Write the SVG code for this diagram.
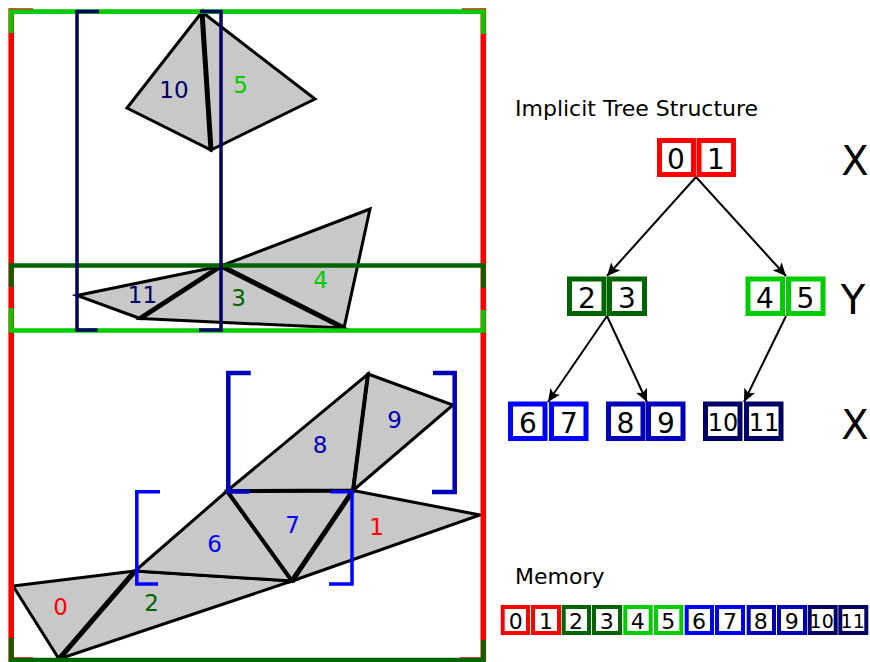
<svg xmlns="http://www.w3.org/2000/svg" width="870" height="662" viewBox="0 0 870 662">
<style>
text{font-family:"DejaVu Sans",sans-serif;text-anchor:middle}
.tri{fill:#c8c8c8;stroke:#000;stroke-width:3;stroke-linejoin:miter;stroke-miterlimit:10}
.e{fill:none;stroke:#000;stroke-width:5;stroke-linecap:butt}
.lb{font-size:23px}
.br{fill:none;stroke-linejoin:miter}
.box{fill:#fff;stroke-width:5}
.mem{fill:#fff;stroke-width:4}
.d{font-size:28px;fill:#000}
.ds{font-size:24px;fill:#000}
.m{font-size:22px;fill:#000}
.ms{font-size:19px;fill:#000}
.h{font-size:22px;fill:#000;text-anchor:start}
.ax{font-size:40px;fill:#000}
.red{stroke:#f00}.dg{stroke:#006400}.lg{stroke:#0c0}.bl{stroke:#00f}.mb{stroke:#00b}.nv{stroke:#006}
.cr{fill:#f00}.cdg{fill:#006400}.clg{fill:#0c0}.cbl{fill:#00f}.cmb{fill:#00b}.cnv{fill:#006}
.arr{fill:none;stroke:#000;stroke-width:2;marker-end:url(#ah)}
</style>
<defs>
<marker id="ah" markerUnits="userSpaceOnUse" markerWidth="14" markerHeight="12" refX="13" refY="6" orient="auto"><path d="M0 0L13 6L0 12L3 6Z" fill="#000"/></marker>
</defs>
<g id="triangles">
<path class="tri" d="M13 586L135 571L59 659Z"/>
<path class="tri" d="M135 571L292 581L59 659Z"/>
<path class="tri" d="M135 571L227 491L292 581Z"/>
<path class="tri" d="M227 491L353 490.500L292 581Z"/>
<path class="tri" d="M353 490.500L480 515L292 581Z"/>
<path class="tri" d="M227 491L368 374L353 490.500Z"/>
<path class="tri" d="M368 374L453 405L353 490.500Z"/>
<path class="tri" d="M202 12L127 108L211 150Z"/>
<path class="tri" d="M202 12L315 99L211 150Z"/>
<path class="tri" d="M221 266L77 295.500L140 318.500Z"/>
<path class="tri" d="M221 266L140 318.500L344 328Z"/>
<path class="tri" d="M221 266L370 209L344 328Z"/>
<path class="e" d="M135 571L59 659M292 581L353 490.500M202 12L211 150M221 266L140 318.500M221 266L344 328"/>
<path class="e" stroke-width="4" style="stroke-width:4" d="M227 491L353 490.500M368 374L353 490.500M227 491L292 581"/>
</g>
<g id="triangle-labels">
<text class="lb cr" x="60.500" y="615">0</text>
<text class="lb cr" x="376.500" y="535">1</text>
<text class="lb cdg" x="151.500" y="611">2</text>
<text class="lb cdg" x="238.500" y="306">3</text>
<text class="lb clg" x="320.500" y="288">4</text>
<text class="lb clg" x="240.500" y="93">5</text>
<text class="lb cbl" x="214.500" y="552">6</text>
<text class="lb cbl" x="292.500" y="533">7</text>
<text class="lb cmb" x="320" y="453">8</text>
<text class="lb cmb" x="394.500" y="428">9</text>
<text class="lb cnv" x="174" y="98">10</text>
<text class="lb cnv" x="142.500" y="303">11</text>
</g>
<g id="brackets">
<path class="br red" stroke-width="5.600" d="M33 11H11.200V660H33M462 11H483.300V660H460"/>
<path class="br lg" stroke-width="4.600" d="M11.200 33V11.600H483.300V34M11.200 308V330.500H483.300V310"/>
<path class="br dg" stroke-width="4.600" d="M11.200 287V265.500H483.300V288M11.200 638V660H483.300V640"/>
<path class="br nv" stroke-width="3.500" d="M99 11.500H77V330H97.500M200 11.500H221V330H199"/>
<path class="br bl" stroke-width="3.500" d="M160 491.700H136.800V584H158M330.500 491.700H352V584H329"/>
<path class="br mb" stroke-width="4.500" d="M250.700 373H228.300V491.500H249.300M433 373H454.700V492H432"/>
</g>
<g id="connectors">
<path class="arr" d="M696 177L607 276"/>
<path class="arr" d="M696 177L786 276"/>
<path class="arr" d="M607 316L548 402"/>
<path class="arr" d="M607 316L647 402"/>
<path class="arr" d="M786 316L744 402"/>
</g>
<text class="h" x="515" y="116">Implicit Tree Structure</text>
<text class="ax" x="855" y="175">X</text>
<text class="ax" x="853" y="314">Y</text>
<text class="ax" x="855" y="439">X</text>
<g id="n0"><rect class="box red" x="659.500" y="140.500" width="34" height="34"/><text class="d" x="676" y="169">0</text></g>
<g id="n1"><rect class="box red" x="699" y="140.500" width="34.500" height="34"/><text class="d" x="716" y="169">1</text></g>
<g id="n2"><rect class="box dg" x="569.500" y="279" width="34.500" height="34.500"/><text class="d" x="587" y="308">2</text></g>
<g id="n3"><rect class="box dg" x="609.500" y="279" width="35" height="34.500"/><text class="d" x="627" y="308">3</text></g>
<g id="n4"><rect class="box lg" x="748" y="279" width="34.500" height="34.500"/><text class="d" x="765" y="308">4</text></g>
<g id="n5"><rect class="box lg" x="788.500" y="279" width="34.500" height="34.500"/><text class="d" x="805.500" y="308">5</text></g>
<g id="n6"><rect class="box bl" x="510.500" y="404" width="34.500" height="34.500"/><text class="d" x="528" y="433">6</text></g>
<g id="n7"><rect class="box bl" x="551.500" y="404" width="34.500" height="34.500"/><text class="d" x="569" y="433">7</text></g>
<g id="n8"><rect class="box mb" x="608.500" y="404" width="34.500" height="34.500"/><text class="d" x="625.500" y="433">8</text></g>
<g id="n9"><rect class="box mb" x="648.500" y="404" width="34.500" height="34.500"/><text class="d" x="666" y="433">9</text></g>
<g id="n10"><rect class="box nv" x="705.500" y="404" width="34.500" height="34.500"/><text class="ds" x="723" y="431">10</text></g>
<g id="n11"><rect class="box nv" x="746.500" y="404" width="34.500" height="34.500"/><text class="ds" x="764" y="431">11</text></g>
<text class="h" x="515" y="584">Memory</text>
<g id="memory">
<g id="m0"><rect class="mem red" x="502.700" y="607" width="25.300" height="26"/><text class="m" x="515.700" y="629">0</text></g>
<g id="m1"><rect class="mem red" x="533" y="607" width="26" height="26"/><text class="m" x="546" y="629">1</text></g>
<g id="m2"><rect class="mem dg" x="563.700" y="607" width="25.300" height="26"/><text class="m" x="576" y="629">2</text></g>
<g id="m3"><rect class="mem dg" x="594" y="607" width="26" height="26"/><text class="m" x="606.700" y="629">3</text></g>
<g id="m4"><rect class="mem lg" x="625.300" y="607" width="25.400" height="26"/><text class="m" x="637.700" y="629">4</text></g>
<g id="m5"><rect class="mem lg" x="656" y="607" width="25.300" height="26"/><text class="m" x="668.300" y="629">5</text></g>
<g id="m6"><rect class="mem bl" x="686.700" y="607" width="25.300" height="26"/><text class="m" x="699" y="629">6</text></g>
<g id="m7"><rect class="mem bl" x="717" y="607" width="26" height="26"/><text class="m" x="730" y="629">7</text></g>
<g id="m8"><rect class="mem mb" x="748.700" y="607" width="25.300" height="26"/><text class="m" x="760.700" y="629">8</text></g>
<g id="m9"><rect class="mem mb" x="779" y="607" width="26" height="26"/><text class="m" x="791.700" y="629">9</text></g>
<g id="m10"><rect class="mem nv" x="809.700" y="607" width="26" height="26"/><text class="ms" x="821.700" y="628">10</text></g>
<g id="m11"><rect class="mem nv" x="840.300" y="607" width="26" height="26"/><text class="ms" x="852.700" y="628">11</text></g>
</g>
</svg>
